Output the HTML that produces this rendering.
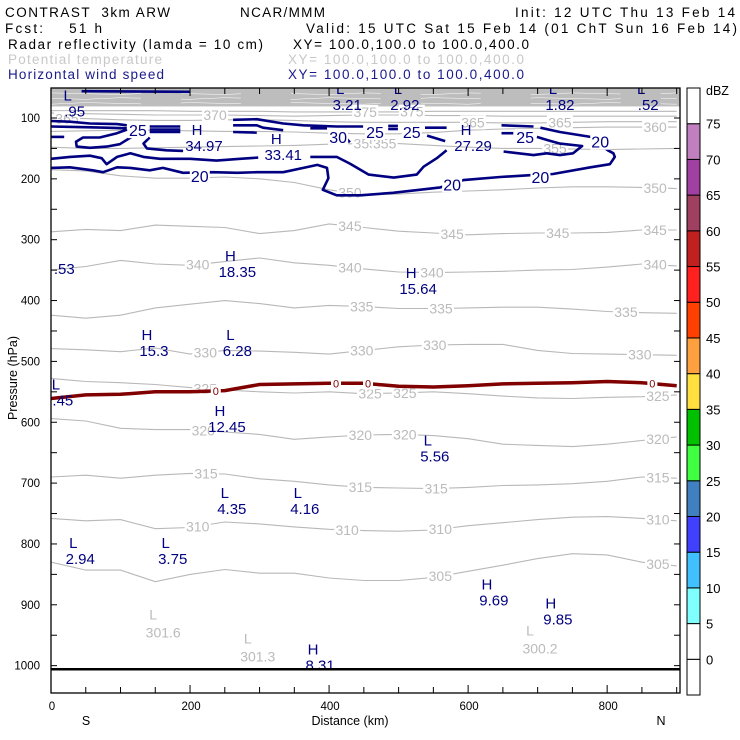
<!DOCTYPE html>
<html><head><meta charset="utf-8"><title>CONTRAST 3km ARW cross section</title>
<style>
html,body{margin:0;padding:0;background:#fff;}
svg{display:block;font-family:"Liberation Sans",sans-serif;}
</style></head>
<body>
<svg id="chart" width="740" height="740" viewBox="0 0 740 740" xmlns="http://www.w3.org/2000/svg">
<rect x="0" y="0" width="740" height="740" fill="#fff"/>
<g font-size="13.5" fill="#000">
<text x="5" y="17" textLength="165" lengthAdjust="spacing" xml:space="preserve">CONTRAST  3km ARW</text>
<text x="240" y="17" textLength="85" lengthAdjust="spacing">NCAR/MMM</text>
<text x="515" y="17" textLength="220" lengthAdjust="spacing">Init: 12 UTC Thu 13 Feb 14</text>
<text x="5" y="33" textLength="97" lengthAdjust="spacing" xml:space="preserve">Fcst:    51 h</text>
<text x="306" y="33" textLength="431" lengthAdjust="spacing">Valid: 15 UTC Sat 15 Feb 14 (01 ChT Sun 16 Feb 14)</text>
<text x="8" y="49" textLength="255" lengthAdjust="spacing">Radar reflectivity (lamda = 10 cm)</text>
<text x="293" y="49" textLength="236" lengthAdjust="spacing">XY= 100.0,100.0 to 100.0,400.0</text>
<text x="8" y="64" fill="#c8c8c8" textLength="154" lengthAdjust="spacing">Potential temperature</text>
<text x="288" y="64" fill="#c8c8c8" textLength="236" lengthAdjust="spacing">XY= 100.0,100.0 to 100.0,400.0</text>
<text x="8" y="79" fill="#1a1a8c" textLength="156" lengthAdjust="spacing">Horizontal wind speed</text>
<text x="288" y="79" fill="#1a1a8c" textLength="236" lengthAdjust="spacing">XY= 100.0,100.0 to 100.0,400.0</text>
</g>
<g id="plot"></g>
<g id="cbar"></g>
</svg>
<script>
// ---- data ----
const distKm = [0,50,100,150,200,250,300,350,400,450,500,550,600,650,700,750,800,850,900];
const thetaLevels = [305,310,315,320,325,330,335,340,345,350,355,360,365,370,375];
const theta305 = [830,843,843,862,850,842,848,848,856,860,860,855,845,835,824,816,818,830,836];
const theta310 = [758,762,760,775,773,764,767,772,776,778,779,777,770,765,760,756,755,758,762];
const theta315 = [690,687,692,687,684,685,693,697,703,707,708,709,707,704,703,701,697,690,692];
const theta320 = [594,598,610,612,612,616,620,628,624,621,620,622,627,636,638,640,636,630,624];
const theta325 = [528,533,535,538,543,547,550,552,550,553,552,550,553,557,560,561,559,558,555];
const theta330 = [479,481,484,478,488,482,483,485,488,482,476,473,472,472,482,487,488,489,490];
const theta335 = [424,429,424,412,406,400,405,412,408,410,413,413,412,411,411,414,418,420,421];
const theta340 = [350,344,334,340,342,336,330,338,342,348,353,354,353,352,350,349,345,340,343];
const theta345 = [287,283,285,276,278,280,290,285,274,280,286,289,292,290,289,289,288,284,284];
const theta350 = [185,187,195,199,199,197,200,206,218,226,225,222,220,218,215,213,213,214,216];
const theta355 = [148,150,150,149,148,147,146,145,143,142,142,145,148,150,150,151,152,151,150];
const theta360 = [122,121,120,120,121,122,122,123,125,126,126,124,120,118,117,116,115,115,115];
const theta365 = [100,101,103,104,104,103,103,104,106,107,107,107,107,108,108,107,106,106,106];
const theta370 = [92,93,94,95,95,95,96,97,96,95,95,96,96,97,97,97,97,97,97];
const theta375 = [88,88,88,88,89,89,89,90,90,90,90,89,89,89,89,89,89,89,89];
const thetaLabelKm = [[560,873],[211,426,560,873],[223,445,554,873],[219,445,509,873],[222,459,509,873],[222,447,552,847],[447,561,827],[211,430,548,869],[430,577,729,869],[430,869],[452,480,725],[869],[23,607,732],[236],[452,519]];
const freezeP = [561,555,554,550,550,548,538,537,536,536,541,542,540,537,536,535,533,535,540];
const freezeLabelKm = [237,410,456,865];
const bandP = [60,68,76];
// wind-speed contours: [km, hPa] vertices
const wind20a = [[0,182],[27,181],[60,186],[75,189],[95,181],[114,182],[142,186],[161,182],[190,190],[233,189],[268,190],[296,189],[334,189],[363,182],[383,177],[397,182],[399,199],[391,218],[411,227],[445,227],[492,223],[560,214],[593,202],[646,197],[689,194],[722,192],[776,181],[804,176],[811,164],[809,158],[801,153],[776,131],[732,123],[704,116]];
const wind20b = [[0,167],[27,164],[56,162],[73,166],[80,176],[95,164],[114,158],[133,164],[157,167],[200,167],[238,170],[272,167],[298,165]];
const wind20c = [[373,164],[411,164],[430,175],[457,193],[493,198],[526,193],[536,180],[555,166],[569,153]];
const wind25a = [[109,119],[95,125],[70,132],[46,132],[36,139],[37,147],[56,149],[80,147],[99,143],[116,131]];
const wind25b = [[142,132],[133,142],[138,150],[166,153],[190,154]];
const wind25c = [[0,105],[27,106],[56,109],[95,110],[109,112]];
const wind25d = [[0,114],[40,115],[80,116],[109,117]];
const wind25e = [[0,131],[19,131]];
const wind25f = [[651,155],[694,161],[713,158],[732,161],[751,158],[764,146],[732,142],[713,136],[699,131]];
const wind25g = [[262,103],[296,102],[334,109],[363,112],[411,114],[449,114]];
const wind25h = [[262,112],[296,112],[305,116],[334,120]];
const wind25i = [[262,123],[296,124]];
const wind25j = [[648,112],[694,114]];
const wind25k = [[648,125],[665,125]];
const wind25l = [[485,113],[499,113]];
const wind25m = [[485,118],[499,118]];
const wind25n = [[538,116],[569,116]];
const wind25o = [[541,129],[567,138]];
const wind30a = [[142,114],[186,114]];
const wind30b = [[142,119],[186,119]];
const wind30c = [[142,123],[186,123]];
const wind30d = [[373,117],[397,117]];
const wind30e = [[425,134],[430,140]];
const windTop = [[44,56],[200,57]];
const windLabels = [[125,120,"25"],[466,123,"25"],[519,123,"25"],[682,131,"25"],[413,131,"30"],[214,195,"20"],[577,209,"20"],[704,197,"20"],[790,139,"20"]];
const windExtrema = [["L",24,61,".95"],["L",416,51,"3.21"],["L",499,51,"2.92"],["L",722,51,"1.82"],["L",849,51,".52"],["H",210,118,"34.97"],["H",324,133,"33.41"],["H",597,118,"27.29"],["H",258,325,"18.35"],["H",518,353,"15.64"],["",9,320,".53"],["H",138,455,"15.3"],["L",258,455,"6.28"],["L",7,536,".45"],["H",243,580,"12.45"],["L",542,628,"5.56"],["L",250,715,"4.35"],["L",355,715,"4.16"],["L",32,797,"2.94"],["L",165,797,"3.75"],["H",627,865,"9.69"],["H",719,896,"9.85"],["H",377,972,"8.31"]];
const thetaExtrema = [["L",147,916,"301.6"],["L",283,955,"301.3"],["L",689,942,"300.2"]];
const groundP = 1006;
const yTicks = [100,200,300,400,500,600,700,800,900,1000];
const xTicks = [0,200,400,600,800];
const dbzLevels = [0,5,10,15,20,25,30,35,40,45,50,55,60,65,70,75];
const dbzColors = ["#ffffff","#ffffff","#80ffff","#40c0ff","#4040ff","#4080c0","#40ff40","#00c000","#ffe040","#ffa040","#ff4000","#ff2020","#c02020","#a04060","#a040a0","#c080c0","#ffffff"];

// ---- axes ----
const X0=51, X1=680, Y0=88, Y1=693;
const xs = km => X0 + km*0.6952;
const ys = p => 118 + (p-100)*0.6085;
const NS="http://www.w3.org/2000/svg";
const plot=document.getElementById('plot');
const cbar=document.getElementById('cbar');
function mk(tag, attrs, parent){const e=document.createElementNS(NS,tag);for(const k in attrs)e.setAttribute(k,attrs[k]);parent.appendChild(e);return e;}
function txt(s, attrs, parent){const e=mk('text',attrs,parent);e.textContent=s;return e;}
const clipDef=mk('defs',{},plot);
const cp=mk('clipPath',{id:'clipP'},clipDef);
mk('rect',{x:X0,y:Y0,width:X1-X0,height:Y1-Y0},cp);
const inner=mk('g',{'clip-path':'url(#clipP)'},plot);

// top band of crowded isentropes
const band=mk('rect',{x:X0,y:Y0,width:X1-X0,height:ys(81)-Y0,fill:'#bdbdbd'},inner);


bandP.forEach((p,k)=>{
  const d=distKm.map((km,i)=>(i?'L':'M')+xs(km).toFixed(1)+','+(ys(p)+((i+k)%3-1)*0.8).toFixed(1)).join('');
  const l=mk('path',{d:d,fill:'none',stroke:'#fff','stroke-width':0.5,'stroke-dasharray':'90 40 60 50'},inner);
  
  
});

function pathFromSeries(pv){return pv.map((p,i)=>(i?'L':'M')+xs(distKm[i]).toFixed(1)+','+ys(p).toFixed(1)).join('');}
function interpP(pv, km){for(let i=0;i<distKm.length-1;i++){if(km>=distKm[i]&&km<=distKm[i+1]){const t=(km-distKm[i])/(distKm[i+1]-distKm[i]);return pv[i]+(pv[i+1]-pv[i])*t;}}return pv[pv.length-1];}
const thetaSeries=[theta305,theta310,theta315,theta320,theta325,theta330,theta335,theta340,theta345,theta350,theta355,theta360,theta365,theta370,theta375];
thetaSeries.forEach((pv,k)=>{
  const pth=mk('path',{d:pathFromSeries(pv),fill:'none',stroke:'#b8b8b8','stroke-width':1.1},inner);
  
  
});
thetaSeries.forEach((pv,k)=>{
  thetaLabelKm[k].forEach(km=>{
    const x=xs(km), y=ys(interpP(pv,km));
    const r=mk('rect',{x:x-13,y:y-7,width:26,height:14,fill:'#fff'},inner);
    
    
    const t=txt(String(thetaLevels[k]),{x:x,y:y+5,'text-anchor':'middle','font-size':14,fill:'#bbbbbb'},inner);
    
    
  });
});
thetaExtrema.forEach(e=>{
  const x=xs(e[1]), y=ys(e[2]);
  const a=txt(e[0],{x:x,y:y+5,'text-anchor':'middle','font-size':14,fill:'#bbbbbb'},inner);
  
  
  const b=txt(e[3],{x:x+10,y:y+23,'text-anchor':'middle','font-size':14,fill:'#bbbbbb'},inner);
  
  
});

// freezing level
const fz=mk('path',{d:pathFromSeries(freezeP),fill:'none',stroke:'#800000','stroke-width':3.5},inner);


freezeLabelKm.forEach(km=>{
  const x=xs(km), y=ys(interpP(freezeP,km));
  const r=mk('rect',{x:x-5,y:y-6,width:10,height:12,fill:'#fff'},inner);
  
  
  const t=txt('0',{x:x,y:y+4,'text-anchor':'middle','font-size':11,fill:'#800000'},inner);
  
  
});

// wind contours
const windSets=[wind20a,wind20b,wind20c,wind25a,wind25b,wind25c,wind25d,wind25e,wind25f,wind25g,wind25h,wind25i,wind25j,wind25k,wind25l,wind25m,wind25n,wind25o,wind30a,wind30b,wind30c,wind30d,wind30e,windTop];
windSets.forEach(pts=>{
  const d=pts.map((q,i)=>(i?'L':'M')+xs(q[0]).toFixed(1)+','+ys(q[1]).toFixed(1)).join('');
  const pth=mk('path',{d:d,fill:'none',stroke:'#000080','stroke-width':2.6,'stroke-linejoin':'round'},inner);
  
  
});
windLabels.forEach(l=>{
  const x=xs(l[0]), y=ys(l[1]);
  const r=mk('rect',{x:x-10,y:y-8,width:20,height:16,fill:'#fff'},inner);
  
  
  const t=txt(l[2],{x:x,y:y+6,'text-anchor':'middle','font-size':16,fill:'#000080'},inner);
  
  
});
windExtrema.forEach(e=>{
  const x=xs(e[1]), y=ys(e[2]);
  if(e[0]){
    const a=txt(e[0],{x:x,y:y+6,'text-anchor':'middle','font-size':15,fill:'#000080'},inner);
    
    
  }
  const b=txt(e[3],{x:x+7,y:y+22,'text-anchor':'middle','font-size':15,fill:'#000080'},inner);
  
  
});

// ground
const gr=mk('line',{x1:X0,x2:X1,y1:ys(groundP),y2:ys(groundP),stroke:'#000','stroke-width':2.5},inner);



// frame & ticks
const fr=mk('rect',{x:X0,y:Y0,width:X1-X0,height:Y1-Y0,fill:'none',stroke:'#000','stroke-width':1.3},plot);


for(let p=100;p<=1000;p+=50){
  const y=ys(p);
  [[X0,X0+6],[X1,X1-6]].forEach(s=>{
    const l=mk('line',{x1:s[0],x2:s[1],y1:y,y2:y,stroke:'#000','stroke-width':1},plot);
    
    
  });
}
yTicks.forEach(p=>{
  const t=txt(String(p),{x:40,y:ys(p)+4,'text-anchor':'end','font-size':11.5,fill:'#000'},plot);
  
  
});
for(let km=0;km<=900;km+=50){
  const x=xs(km); const len=(km%200===0)?8:6;
  [[Y1,Y1-len],[Y0,Y0+len]].forEach(s=>{
    const l=mk('line',{x1:x,x2:x,y1:s[0],y2:s[1],stroke:'#000','stroke-width':1},plot);
    
    
  });
}
xTicks.forEach(km=>{
  const t=txt(String(km),{x:xs(km)+1,y:710,'text-anchor':'middle','font-size':11.5,fill:'#000'},plot);
  
  
});
const yt=txt('Pressure (hPa)',{x:0,y:0,transform:'translate(17,378) rotate(-90)','text-anchor':'middle','font-size':12.5,fill:'#000'},plot);


const xt=txt('Distance (km)',{x:350,y:725,'text-anchor':'middle','font-size':12.5,fill:'#000'},plot);


const sL=txt('S',{x:86,y:725,'text-anchor':'middle','font-size':12.5,fill:'#000'},plot);


const nL=txt('N',{x:661,y:725,'text-anchor':'middle','font-size':12.5,fill:'#000'},plot);



// colorbar
const CB_X=687, CB_W=13, CB_TOP=88, CB_BOT=695;
const boxH=(CB_BOT-CB_TOP)/dbzColors.length;
dbzColors.forEach((c,i)=>{
  const yTop=CB_BOT-(i+1)*boxH;
  const r=mk('rect',{x:CB_X,y:yTop,width:CB_W,height:boxH,fill:c,stroke:'#000','stroke-width':1},cbar);
  
  
});
dbzLevels.forEach((v,i)=>{
  const y=CB_BOT-(i+1)*boxH;
  const t=txt(String(v),{x:706,y:y+5,'font-size':13,fill:'#000'},cbar);
  
  
});
const du=txt('dBZ',{x:706,y:95,'font-size':12.5,fill:'#000'},cbar);


</script>
</body></html>
